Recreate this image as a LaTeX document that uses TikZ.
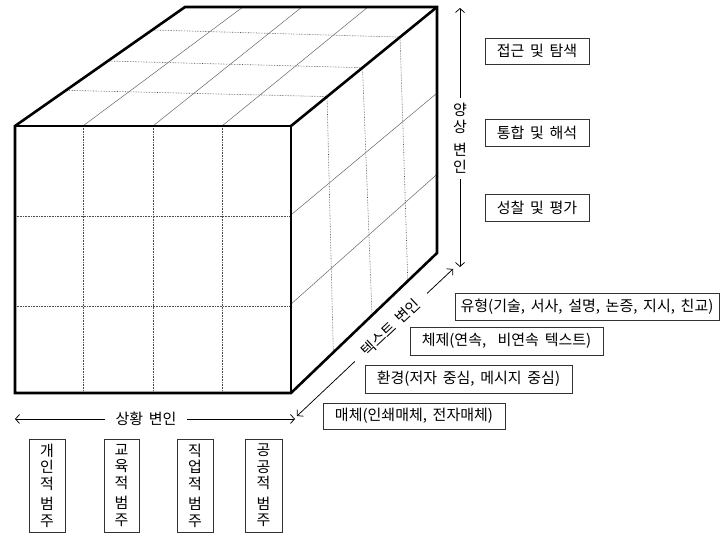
\documentclass[tikz,border=0pt]{standalone}
\usepackage{fontspec}
\setmainfont{Noto Sans CJK KR}[WordSpace=1.7]
\usetikzlibrary{arrows.meta,calc}
\begin{document}
\begin{tikzpicture}[x=1pt,y=-1pt,
  edge/.style={line width=2.6pt,line join=miter},
  gridd/.style={black!70,line width=0.6pt,densely dotted},
  grids/.style={black!60,line width=0.5pt},
  lbl/.style={draw=black!80,line width=0.8pt,inner sep=0pt,font=\fontsize{15}{16}\selectfont},
  vbox/.style={lbl,minimum width=36pt,minimum height=93pt,align=center,font=\fontsize{15}{16.5}\selectfont},
  axis/.style={line width=0.75pt,-{Straight Barb[length=4pt,width=9pt]}},
  axlbl/.style={inner sep=0pt,font=\fontsize{15}{17}\selectfont}
]
\useasboundingbox (0,0) rectangle (721,534);
% cube corners
\coordinate (FTL) at (15,126);
\coordinate (FTR) at (291,126);
\coordinate (FBR) at (291,393);
\coordinate (FBL) at (15,393);
\coordinate (BTL) at (185,7);
\coordinate (BTR) at (437,7);
\coordinate (BBR) at (437,253);
% front grid
\foreach \a in {0.246,0.5,0.75}
  \draw[gridd] ($(FTL)!\a!(FTR)$) -- ($(FBL)!\a!(FBR)$);
\foreach \a in {0.337,0.674}
  \draw[gridd] ($(FTL)!\a!(FBL)$) -- ($(FTR)!\a!(FBR)$);
% top grid
\foreach \a/\b in {0.30/0.247,0.546/0.49,0.807/0.747}
  \draw[gridd] ($(FTL)!\a!(BTL)$) -- ($(FTR)!\b!(BTR)$);
\foreach \a/\b in {0.246/0.23,0.5/0.464,0.75/0.726}
  \draw[grids] ($(FTL)!\a!(FTR)$) -- ($(BTL)!\b!(BTR)$);
% right grid
\foreach \a/\b in {0.247/0.29,0.49/0.555,0.747/0.80}
  \draw[gridd] ($(FTR)!\a!(BTR)$) -- ($(FBR)!\b!(BBR)$);
\foreach \a/\b in {0.333/0.35,0.667/0.68}
  \draw[grids] ($(FTR)!\a!(FBR)$) -- ($(BTR)!\b!(BBR)$);
% cube edges
\draw[edge] (FBL) -- (FTL) -- (BTL) -- (BTR) -- (BBR) -- (FBR) -- cycle;
\draw[edge] (FTL) -- (FTR) -- (FBR);
\draw[edge] (FTR) -- (BTR);
% vertical axis
\coordinate (vtop) at (460,8);
\coordinate (vbot) at (460,267);
\node[axlbl,inner ysep=5pt,align=center] (vx) at (460,138.5) {양\\상\\[6pt]변\\인};
\draw[axis] (vx.north) -- (vtop);
\draw[axis] (vx.south) -- (vbot);
% horizontal axis
\coordinate (hl) at (15,419);
\coordinate (hr) at (295,419);
\node[axlbl,inner xsep=10pt] (hx) at (146,419) {상황 변인};
\draw[axis] (hx.west) -- (hl);
\draw[axis] (hx.east) -- (hr);
% diagonal axis
\coordinate (dlo) at (297,416);
\coordinate (dhi) at (453,269);
\node[axlbl,inner xsep=12pt,rotate=43.3] (dx) at (391,327.4) {텍스트 변인};
\draw[axis] (dx.west) -- (dlo);
\draw[axis] (dx.east) -- (dhi);
% right boxes
\node[lbl,minimum width=104pt,minimum height=26pt] (m1) at (537,51) {접근 및 탐색};
\node[lbl,minimum width=104pt,minimum height=27pt] (m2) at (537,132.5) {통합 및 해석};
\node[lbl,minimum width=104pt,minimum height=27pt] (m3) at (537,207.5) {성찰 및 평가};
% text boxes
\node[lbl,minimum width=264pt,minimum height=27pt] (t1) at (587,306.5) {유형(기술, 서사, 설명, 논증, 지시, 친교)};
\node[lbl,minimum width=193pt,minimum height=28pt] (t2) at (506.5,341) {체제(연속,~ 비연속 텍스트)};
\node[lbl,minimum width=207pt,minimum height=28pt] (t3) at (468.5,379) {환경(저자 중심, 메시지 중심)};
\node[lbl,minimum width=182pt,minimum height=26pt] (t4) at (414,416) {매체(인쇄매체, 전자매체)};
% context boxes
\node[vbox] (c1) at (47,485.5) {개\\인\\적\\[4pt]범\\주};
\node[vbox,minimum width=35pt] (c2) at (121.5,485.5) {교\\육\\적\\[4pt]범\\주};
\node[vbox] (c3) at (195,485.5) {직\\업\\적\\[4pt]범\\주};
\node[vbox,minimum width=37pt] (c4) at (263.5,485.5) {공\\공\\적\\[4pt]범\\주};
\end{tikzpicture}
\end{document}
